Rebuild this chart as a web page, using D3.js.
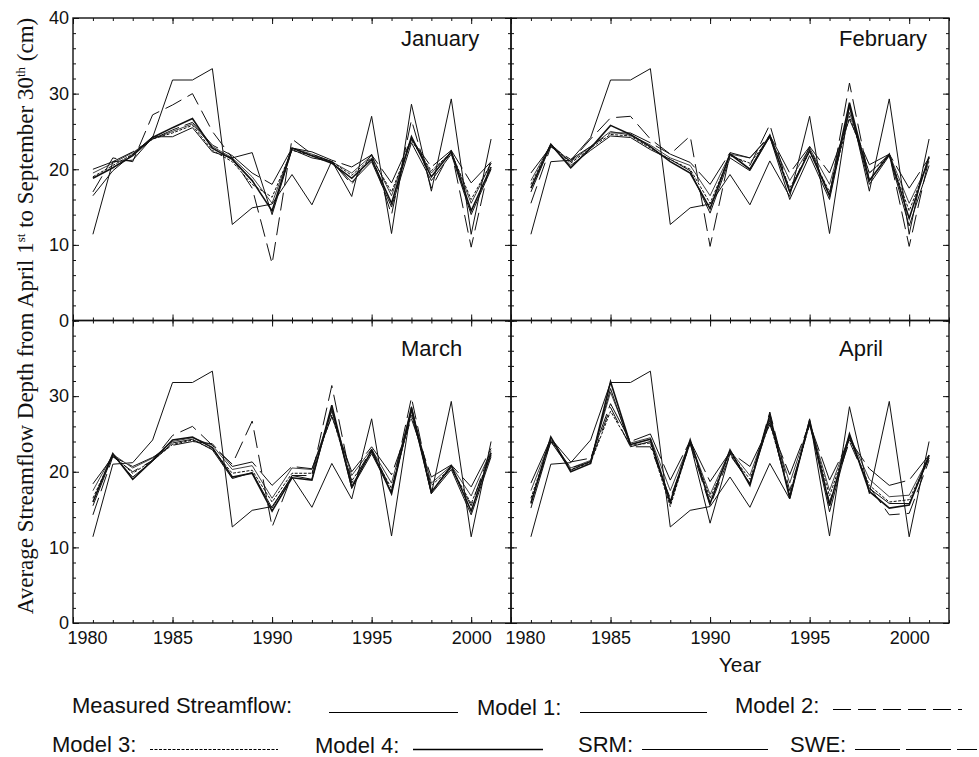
<!DOCTYPE html>
<html>
<head>
<meta charset="utf-8">
<script src="https://cdn.jsdelivr.net/npm/d3@7"></script>
<style>
body { margin: 0; background: #fff; }
svg { display: block; font-family: "Liberation Sans", Arial, sans-serif; }
</style>
</head>
<body>
<div id="main"></div>
<script>
// water years plotted in every panel
const YEARS = [1981, 1982, 1983, 1984, 1985, 1986, 1987, 1988, 1989, 1990, 1991,
               1992, 1993, 1994, 1995, 1996, 1997, 1998, 1999, 2000, 2001];
const MONTHS = ["January", "February", "March", "April"];
const X_TICKS = [1980, 1985, 1990, 1995, 2000];
const Y_TICKS = [0, 10, 20, 30, 40];

// measured streamflow is the same in all four panels
const MEASURED = [11.4, 21.0, 21.2, 24.2, 31.8, 31.8, 33.3, 12.7, 14.9, 15.4, 19.3,
                  15.3, 21.1, 16.4, 27.0, 11.5, 28.6, 17.1, 29.3, 11.4, 24.0];

// forecasts, one row per month (Jan, Feb, Mar, Apr)
const MODEL_1 = [
    [19.5, 20.8, 22.2, 24.0, 25.0, 26.0, 23.0, 21.5, 19.0, 15.5, 22.8, 22.0, 21.0, 19.5, 21.8, 16.5, 24.0, 19.5, 22.3, 15.5, 20.8],
    [18.5, 23.3, 21.0, 23.0, 25.0, 24.5, 23.2, 21.5, 20.5, 16.5, 22.0, 21.5, 24.3, 18.5, 22.8, 18.0, 27.5, 19.5, 22.0, 15.5, 21.0],
    [17.5, 22.3, 20.5, 21.8, 24.0, 24.5, 23.5, 20.3, 20.8, 16.5, 20.5, 20.3, 28.0, 19.5, 23.0, 18.5, 28.2, 18.5, 20.8, 16.8, 22.8],
    [17.5, 24.3, 20.5, 21.5, 30.5, 23.8, 24.5, 17.5, 24.0, 17.0, 22.8, 19.5, 27.0, 18.5, 26.5, 17.5, 24.8, 19.0, 16.7, 16.9, 22.0]
];
const MODEL_2 = [
    [17.0, 21.5, 21.0, 27.2, 28.5, 30.0, 25.0, 21.5, 17.5, 7.5, 24.0, 22.0, 21.0, 18.0, 22.0, 14.0, 26.5, 17.5, 22.5, 9.7, 21.5],
    [15.5, 23.0, 21.0, 24.0, 26.8, 27.0, 24.0, 22.0, 24.4, 9.8, 22.0, 20.5, 25.9, 17.0, 23.0, 16.5, 31.4, 18.5, 22.0, 9.8, 21.5],
    [14.3, 22.0, 20.0, 21.5, 24.8, 26.0, 23.5, 21.0, 26.7, 12.7, 19.5, 19.5, 31.4, 18.5, 23.0, 17.5, 29.8, 17.5, 20.5, 15.5, 23.0],
    [16.0, 24.0, 20.5, 21.3, 28.5, 23.3, 23.3, 16.5, 23.7, 15.5, 22.2, 18.5, 27.9, 17.5, 26.2, 16.0, 24.0, 18.0, 14.3, 14.5, 21.5]
];
const MODEL_3 = [
    [19.0, 20.5, 22.0, 24.0, 24.8, 25.8, 22.5, 21.0, 18.0, 16.3, 22.5, 21.8, 21.0, 19.2, 21.5, 17.0, 23.8, 19.8, 22.2, 16.0, 20.8],
    [18.0, 23.3, 20.8, 22.8, 24.6, 24.4, 22.8, 21.3, 20.0, 15.5, 21.8, 20.8, 24.2, 17.5, 22.3, 17.0, 27.0, 19.5, 21.8, 14.5, 21.3],
    [16.5, 22.2, 19.8, 21.5, 23.6, 24.2, 23.0, 19.8, 20.2, 16.0, 19.8, 19.8, 27.5, 18.8, 22.6, 17.8, 27.5, 18.2, 20.5, 15.8, 22.2],
    [16.5, 24.2, 20.3, 21.2, 28.0, 23.5, 23.8, 15.4, 24.0, 16.5, 22.5, 19.0, 26.5, 17.0, 26.3, 16.8, 24.5, 18.2, 16.0, 16.3, 21.8]
];
const MODEL_4 = [
    [18.8, 20.2, 21.8, 24.2, 25.5, 26.7, 22.8, 21.3, 18.5, 14.5, 22.8, 21.8, 20.8, 18.8, 21.3, 15.5, 24.3, 19.0, 22.3, 14.5, 20.3],
    [17.5, 23.3, 20.2, 22.8, 25.8, 24.6, 23.0, 21.0, 19.5, 14.8, 22.0, 20.0, 24.5, 17.0, 22.5, 16.5, 28.8, 18.5, 22.0, 13.5, 21.7],
    [16.0, 22.4, 19.0, 21.5, 24.2, 24.6, 23.2, 19.3, 19.8, 14.8, 19.2, 18.9, 28.8, 18.0, 22.8, 17.1, 28.5, 17.3, 20.8, 14.8, 22.5],
    [15.8, 24.6, 20.0, 21.1, 31.9, 23.6, 24.3, 16.0, 24.2, 15.8, 22.9, 18.2, 27.5, 16.5, 26.8, 15.5, 25.0, 17.4, 15.2, 15.6, 22.2]
];
const SRM = [
    [16.5, 19.8, 22.0, 24.3, 24.3, 25.5, 22.3, 21.5, 22.2, 14.0, 22.6, 21.5, 21.0, 18.3, 21.0, 15.0, 23.5, 18.5, 22.0, 14.0, 20.0],
    [17.0, 23.2, 20.5, 22.5, 24.4, 24.2, 22.6, 21.3, 19.8, 14.2, 21.5, 19.8, 24.3, 16.0, 21.8, 16.0, 28.2, 18.0, 21.8, 12.5, 20.5],
    [15.5, 22.2, 19.3, 21.4, 23.8, 24.3, 22.9, 19.1, 19.9, 15.2, 19.5, 19.0, 28.3, 17.8, 22.4, 17.3, 28.0, 17.1, 20.3, 14.3, 22.0],
    [15.2, 24.0, 20.2, 21.4, 31.0, 23.3, 24.0, 15.8, 23.8, 13.2, 22.4, 18.4, 26.8, 16.8, 26.6, 14.7, 24.6, 17.8, 15.8, 15.8, 21.8]
];
const SWE = [
    [20.0, 21.0, 22.3, 24.0, 25.2, 26.2, 23.2, 21.8, 19.5, 18.0, 22.8, 22.3, 21.2, 20.3, 21.9, 18.2, 24.0, 20.3, 22.5, 18.2, 21.0],
    [19.5, 23.0, 21.3, 23.0, 24.8, 24.8, 23.5, 22.0, 20.9, 18.0, 22.2, 21.5, 24.5, 19.5, 23.0, 19.5, 26.6, 20.6, 22.0, 17.5, 21.5],
    [18.4, 22.0, 20.7, 21.9, 23.5, 24.0, 23.7, 20.7, 21.3, 18.2, 20.7, 20.4, 27.3, 20.0, 23.3, 19.6, 27.0, 19.3, 20.9, 18.0, 23.1],
    [18.5, 24.4, 21.3, 21.8, 29.0, 24.0, 25.0, 18.9, 24.1, 18.7, 22.6, 20.7, 26.2, 19.6, 26.4, 18.9, 24.2, 20.4, 18.2, 18.9, 22.2]
];

const SERIES_LABELS = ["Measured Streamflow", "Model 1", "Model 2", "Model 3", "Model 4", "SRM", "SWE"];

const ctx = {
    w: 979,
    h: 757,
    left: 73,
    top: 18,
    panelW: 438,
    panelH: 302.5,
    majorTick: 6,
    minorTick: 3,
    ink: "#111",
    // stroke style per series, same order as SERIES_LABELS
    styles: [
        { width: 1.0, dash: null },
        { width: 0.8, dash: null },
        { width: 1.0, dash: "18,7" },
        { width: 1.0, dash: "3,1.5" },
        { width: 1.6, dash: null },
        { width: 1.0, dash: null },
        { width: 1.0, dash: "45,6" }
    ],
    // legend placement: label x, baseline y, line x1, x2, line y
    legendPos: [
        [72, 713, 329, 458, 712],
        [477, 715, 580, 707, 712],
        [735, 713, 833, 962, 709],
        [52, 752, 150, 278, 749],
        [315, 753, 413, 543, 749],
        [578, 752, 642, 768, 749],
        [790, 752, 855, 977, 749]
    ]
};

function seriesFor(m) {
    return [MEASURED, MODEL_1[m], MODEL_2[m], MODEL_3[m], MODEL_4[m], SRM[m], SWE[m]];
}

function drawPanel(svgEl, m) {
    let col = m % 2, row = Math.floor(m / 2);
    let x0 = ctx.left + col * ctx.panelW;
    let y0 = ctx.top + row * ctx.panelH;
    let x = d3.scaleLinear().domain([1980, 2002]).range([0, ctx.panelW]);
    let y = d3.scaleLinear().domain([0, 40]).range([ctx.panelH, 0]);
    let g = svgEl.append("g")
        .attr("class", "panel")
        .attr("transform", `translate(${x0},${y0})`);

    // series lines
    let line = d3.line()
        .x((d, i) => x(YEARS[i]))
        .y((d) => y(d));
    seriesFor(m).forEach(function (vals, s) {
        let st = ctx.styles[s];
        g.append("path")
            .attr("d", line(vals))
            .attr("fill", "none")
            .attr("stroke", ctx.ink)
            .attr("stroke-width", st.width)
            .attr("stroke-dasharray", st.dash);
    });

    // inward ticks on all four sides
    let clean = (sel) => {
        sel.select(".domain").remove();
        sel.selectAll("line").attr("stroke", ctx.ink);
    };
    let minorYears = x.ticks(22);
    let minorVals = y.ticks(20);
    g.append("g").attr("transform", `translate(0,${ctx.panelH})`)
        .call(d3.axisBottom(x).tickValues(minorYears).tickSize(-ctx.minorTick).tickFormat("")).call(clean);
    g.append("g")
        .call(d3.axisTop(x).tickValues(minorYears).tickSize(-ctx.minorTick).tickFormat("")).call(clean);
    g.append("g")
        .call(d3.axisTop(x).tickValues(X_TICKS).tickSize(-ctx.majorTick).tickFormat("")).call(clean);
    g.append("g")
        .call(d3.axisLeft(y).tickValues(minorVals).tickSize(-ctx.minorTick).tickFormat("")).call(clean);
    g.append("g").attr("transform", `translate(${ctx.panelW},0)`)
        .call(d3.axisRight(y).tickValues(minorVals).tickSize(-ctx.minorTick).tickFormat("")).call(clean);
    g.append("g").attr("transform", `translate(${ctx.panelW},0)`)
        .call(d3.axisRight(y).tickValues(Y_TICKS).tickSize(-ctx.majorTick).tickFormat("")).call(clean);

    // bottom major ticks, labelled only on the lower row
    let xAxis = g.append("g")
        .attr("transform", `translate(0,${ctx.panelH})`)
        .call(d3.axisBottom(x).tickValues(X_TICKS).tickSize(-ctx.majorTick).tickPadding(8)
            .tickFormat(row == 1 ? d3.format("d") : ""))
        .call(clean);
    xAxis.selectAll("text")
        .attr("font-size", 18)
        .attr("font-family", "Liberation Sans, Arial, sans-serif")
        .attr("fill", ctx.ink)
        .attr("dx", (d) => (d == 1980 ? 14 : 0));

    // left major ticks, labelled only on the left column
    let yLabels = row == 0 ? Y_TICKS : Y_TICKS.filter((d) => d < 40);
    let yAxis = g.append("g")
        .call(d3.axisLeft(y).tickValues(Y_TICKS).tickSize(-ctx.majorTick).tickPadding(4)
            .tickFormat((d) => (col == 0 && yLabels.includes(d) ? d : "")))
        .call(clean);
    yAxis.selectAll("text")
        .attr("font-size", 18)
        .attr("font-family", "Liberation Sans, Arial, sans-serif")
        .attr("fill", ctx.ink);

    // frame
    g.append("rect")
        .attr("width", ctx.panelW)
        .attr("height", ctx.panelH)
        .attr("fill", "none")
        .attr("stroke", ctx.ink)
        .attr("stroke-width", 1.4);

    // month name
    g.append("text")
        .attr("x", 328)
        .attr("y", row == 0 ? 28 : 35)
        .attr("font-size", 22)
        .attr("fill", ctx.ink)
        .text(MONTHS[m]);
}

function drawTitles(svgEl) {
    let t = svgEl.append("text")
        .attr("transform", "translate(33,316) rotate(-90)")
        .attr("text-anchor", "middle")
        .attr("font-family", "Liberation Serif, Times New Roman, serif")
        .attr("font-size", 23)
        .attr("fill", ctx.ink);
    t.append("tspan").text("Average Streamflow Depth from April 1");
    t.append("tspan").attr("font-size", 13).attr("dy", -8).text("st");
    t.append("tspan").attr("dy", 8).text(" to September 30");
    t.append("tspan").attr("font-size", 13).attr("dy", -8).text("th");
    t.append("tspan").attr("dy", 8).text(" (cm)");

    svgEl.append("text")
        .attr("x", 740)
        .attr("y", 672)
        .attr("text-anchor", "middle")
        .attr("font-size", 21)
        .attr("fill", ctx.ink)
        .text("Year");
}

function drawLegend(svgEl) {
    let lg = svgEl.append("g").attr("id", "legend");
    SERIES_LABELS.forEach(function (label, s) {
        let p = ctx.legendPos[s];
        let st = ctx.styles[s];
        lg.append("text")
            .attr("x", p[0])
            .attr("y", p[1])
            .attr("font-size", 22)
            .attr("fill", ctx.ink)
            .text(label + ":");
        // half-pixel offset keeps the sample strokes crisp
        lg.append("line")
            .attr("x1", p[2])
            .attr("x2", p[3])
            .attr("y1", p[4] + 0.5)
            .attr("y2", p[4] + 0.5)
            .attr("stroke", "#000")
            .attr("stroke-width", Math.max(1, st.width))
            .attr("stroke-dasharray", st.dash);
    });
}

function createViz() {
    let svgEl = d3.select("#main").append("svg")
        .attr("width", ctx.w)
        .attr("height", ctx.h);
    svgEl.append("rect").attr("width", ctx.w).attr("height", ctx.h).attr("fill", "#fff");
    MONTHS.forEach((name, m) => drawPanel(svgEl, m));
    drawTitles(svgEl);
    drawLegend(svgEl);
}

createViz();
</script>
</body>
</html>
